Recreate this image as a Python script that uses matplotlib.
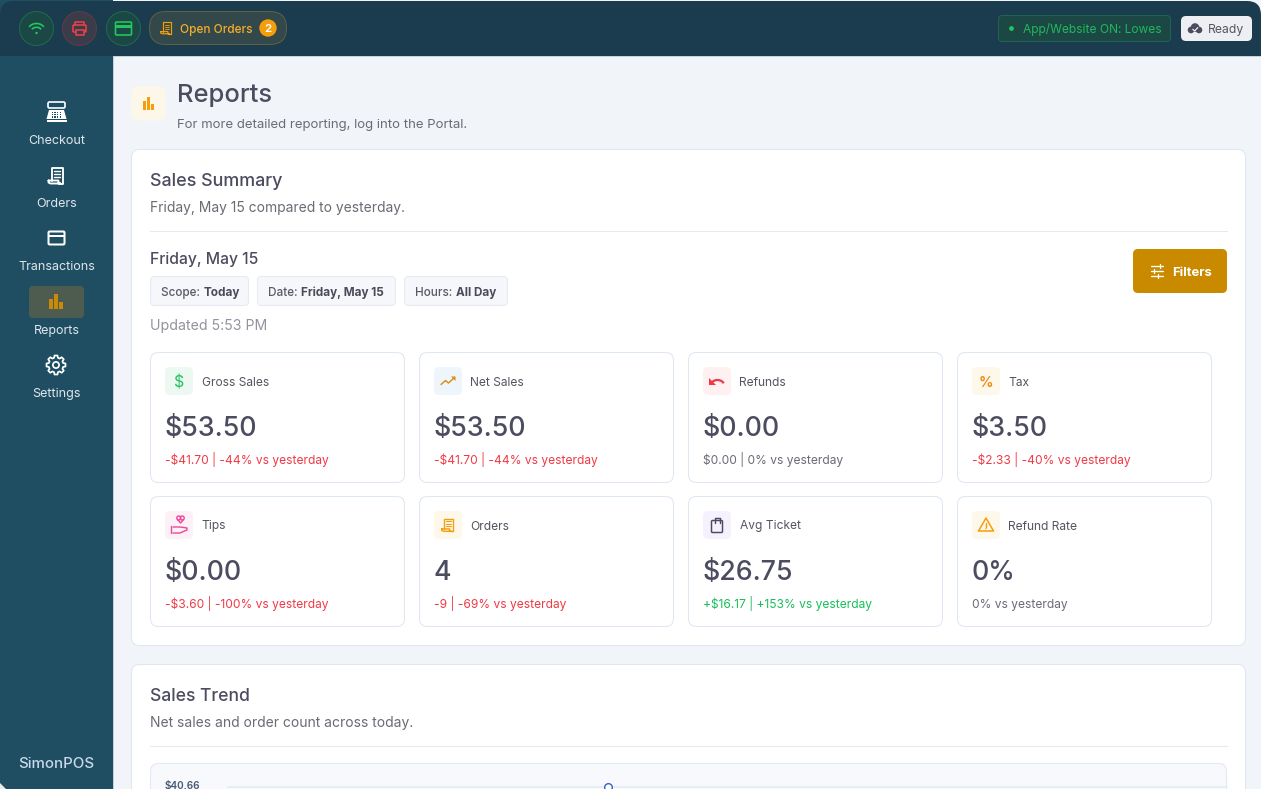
import math
import matplotlib
matplotlib.use("Agg")
import matplotlib.pyplot as plt
from matplotlib.patches import FancyBboxPatch, Circle, Rectangle, Polygon, Arc

plt.rcParams['font.family'] = ['Inter', 'DejaVu Sans']

W, H = 1261, 789

# ---------- content ----------
nav_labels = ["Checkout", "Orders", "Transactions", "Reports", "Settings"]
scope_chips = [("Scope: ", "Today"), ("Date: ", "Friday, May 15"), ("Hours: ", "All Day")]
card_titles = ["Gross Sales", "Net Sales", "Refunds", "Tax", "Tips", "Orders", "Avg Ticket", "Refund Rate"]
card_values = ["$53.50", "$53.50", "$0.00", "$3.50", "$0.00", "4", "$26.75", "0%"]
card_deltas = ["-$41.70 | -44% vs yesterday", "-$41.70 | -44% vs yesterday", "$0.00 | 0% vs yesterday",
               "-$2.33 | -40% vs yesterday", "-$3.60 | -100% vs yesterday", "-9 | -69% vs yesterday",
               "+$16.17 | +153% vs yesterday", "0% vs yesterday"]
delta_kinds = ["down", "down", "flat", "down", "down", "down", "up", "flat"]
trend_axis_label = "$40.66"
trend_peak = [40.66]

fig = plt.figure(figsize=(W / 100, H / 100), dpi=100, facecolor="white")
ax = fig.add_axes([0, 0, 1, 1])
ax.set_xlim(0, W)
ax.set_ylim(H, 0)
ax.axis("off")

DARK = "#4c4c60"
GREY = "#6b6b74"
RED = "#f03a45"
GREEN = "#22c55e"
AMBER = "#f59e0b"
BORDER = "#dfe7f2"
SIDE = "#1f4e63"


def rrect(x, y, w, h, r, fc, ec="none", lw=0.75, z=2, alpha=None):
    p = FancyBboxPatch((x + r, y + r), w - 2 * r, h - 2 * r, boxstyle=f"round,pad={r},rounding_size={r}",
                       fc=fc, ec=ec, lw=lw, zorder=z, alpha=alpha)
    ax.add_patch(p)
    return p


def txt(x, y, s, px, color=DARK, ha="left", va="baseline", weight="normal", z=6):
    return ax.text(x, y, s, fontsize=px * 0.72, color=color, ha=ha, va=va, fontweight=weight, zorder=z)


def line(xs, ys, color, lw=1.2, z=5):
    ax.plot(xs, ys, color=color, lw=lw, zorder=z, solid_capstyle="round", solid_joinstyle="round")


def bars_icon(cx, cy, color, s=1.0, z=5):
    for dx, h in ((-5.2, 10), (0, 15), (5.2, 7)):
        ax.add_patch(Rectangle((cx + (dx - 1.8) * s, cy + (7 - h) * s), 3.6 * s, h * s, fc=color, ec="none", zorder=z))


def card_icon(cx, cy, color, lw=1.2):
    ax.add_patch(FancyBboxPatch((cx - 8, cy - 6.5), 16, 13, boxstyle="round,pad=0,rounding_size=1.2",
                                fc="none", ec=color, lw=lw, zorder=5))
    ax.add_patch(Rectangle((cx - 8, cy - 3.4), 16, 2.8, fc=color, ec="none", zorder=5))


def receipt_icon(cx, cy, color, lw=1.2, s=1.0):
    line([cx - 5 * s, cx - 5 * s, cx + 6 * s, cx + 6 * s, cx + 2 * s],
         [cy + 5 * s, cy - 8 * s, cy - 8 * s, cy + 8 * s, cy + 8 * s], color, lw)
    line([cx - 8 * s, cx + 2 * s, cx + 2 * s, cx + 4 * s, cx - 6 * s, cx - 8 * s, cx - 8 * s],
         [cy + 5 * s, cy + 5 * s, cy + 8 * s, cy + 8 * s, cy + 8 * s, cy + 7 * s, cy + 5 * s], color, lw)
    for dy in (-4.5, -1.5, 1.5):
        line([cx - 2.5 * s, cx + 3.5 * s], [cy + dy * s, cy + dy * s], color, lw * 0.75)


def gear_icon(cx, cy, color):
    pts = []
    teeth = 8
    for i in range(teeth):
        a0 = 2 * math.pi * i / teeth - math.pi / 2
        step = 2 * math.pi / teeth
        for frac, r in ((-0.34, 7.4), (-0.2, 9.6), (0.2, 9.6), (0.34, 7.4)):
            a = a0 + frac * step
            pts.append([cx + r * math.cos(a), cy + r * math.sin(a)])
    ax.add_patch(Polygon(pts, closed=True, fc="none", ec=color, lw=1.25, zorder=5, joinstyle="round"))
    ax.add_patch(Circle((cx, cy), 3.1, fc="none", ec=color, lw=1.25, zorder=5))


# ---------- window ----------
ax.add_patch(Rectangle((0, 0), W, H, fc="#f1f5f9", ec="none", zorder=0))
ax.add_patch(Rectangle((0, 0), 113, H, fc=SIDE, ec="none", zorder=1))
ax.add_patch(Rectangle((113, 56), 1, H, fc="#c4d0da", ec="none", zorder=1))
rrect(0, 1, W, 75, 14, "#1a3c4e", z=1.2)
ax.add_patch(Rectangle((0, 56), 113, 24, fc=SIDE, ec="none", zorder=1.3))
ax.add_patch(Rectangle((113.0, 56), W - 113, 24, fc="#f1f5f9", ec="none", zorder=1.3))
ax.add_patch(Rectangle((113, 56), W - 113, 1, fc="#c8d2dc", ec="none", zorder=1.4))
ax.add_patch(Rectangle((113, 56), 1, 40, fc="#c4d0da", ec="none", zorder=1.4))
ax.add_patch(Polygon([[0, 783], [0, 789], [6, 789]], fc="#e9e9e6", ec="none", zorder=1.5))

# ---------- top bar ----------
for cx0, fc, ec in ((36.5, "#1b4745", "#1f6a50"), (79.5, "#3a3c4a", "#623a48"), (123.5, "#1b4745", "#1f6a50")):
    ax.add_patch(Circle((cx0, 28.5), 17, fc=fc, ec=ec, lw=0.75, zorder=3))
for d, lw0 in ((20, 1.2), (12.5, 1.2)):
    ax.add_patch(Arc((36.5, 33.5), d, d, theta1=222, theta2=318, ec=GREEN, lw=lw0, zorder=5))
ax.add_patch(Circle((36.5, 33), 1.2, fc=GREEN, ec="none", zorder=5))
# printer
line([75, 75, 84, 84], [25, 22, 22, 25], "#f04048", 1.1)
ax.add_patch(FancyBboxPatch((73, 25), 13, 7, boxstyle="round,pad=0,rounding_size=1", fc="none", ec="#f04048", lw=1.1, zorder=5))
ax.add_patch(Rectangle((75.5, 29.5), 8, 5, fc="#3a3c4a", ec="#f04048", lw=1.1, zorder=5.5))
card_icon(123.5, 28.5, GREEN, 1.2)
rrect(149.5, 11.5, 137, 33, 16.5, "#33484a", ec="#5e5f45", lw=0.75)
receipt_icon(166.5, 28, AMBER, 0.85, 0.72)
txt(180, 32.5, "Open Orders", 11.9, "#f5ac2a", weight="medium")
ax.add_patch(Circle((268, 28), 8.7, fc=AMBER, ec="none", zorder=5))
txt(268, 32, "2", 11.5, "white", ha="center", weight="semibold")

rrect(998.5, 15.5, 172, 26, 4, "#1b4745", ec="#1f6450", lw=0.75)
ax.add_patch(Circle((1011.5, 28.5), 2.4, fc=GREEN, ec="none", zorder=5))
txt(1023, 33.3, "App/Website ON: Lowes", 12, "#22b85c")
rrect(1181, 16, 71, 25, 5, "#eeeff2")
ax.add_patch(Circle((1195, 27.5), 4.3, fc=DARK, ec="none", zorder=5))
ax.add_patch(Circle((1199, 30), 3.3, fc=DARK, ec="none", zorder=5))
ax.add_patch(Circle((1191, 30), 3.3, fc=DARK, ec="none", zorder=5))
line([1192.8, 1194.6, 1197.8], [29.3, 31, 27.6], "white", 0.8, z=6)
txt(1208, 33.4, "Ready", 12.2, "#55555f")

# ---------- sidebar ----------
nav_y = [143.5, 206.5, 270, 333.5, 397]
for label, y in zip(nav_labels, nav_y):
    txt(56.5, y, label, 12.5, "#dfe6ea", ha="center")
# till
rrect(48, 102, 17, 6, 1.5, "none", ec="white", lw=1.2, z=5)
ax.add_patch(Polygon([[49, 110], [64, 110], [66.5, 119], [46.5, 119]], fc="white", ec="none", zorder=5))
ax.add_patch(Rectangle((46.5, 120), 20, 2, fc="white", ec="none", zorder=5))
for i in range(4):
    for j in range(3):
        ax.add_patch(Rectangle((51.5 + i * 2.7, 112 + j * 2.2), 1.5, 1.2, fc=SIDE, ec="none", zorder=6))
receipt_icon(56.5, 175.5, "white", 1.35, 1.0)
card_icon(56.5, 238, "white", 1.45)
rrect(29, 286, 55, 32, 4, "#4e5c4f")
bars_icon(56, 302, "#c98a0a", 1.0)
gear_icon(56, 365, "white")
# logo
txt(18, 768.5, "SimonPOS", 15, "#c9d9ea", weight="medium")

# ---------- page header ----------
rrect(131.5, 86.5, 34, 34, 6, "#fdf7e9")
bars_icon(148.5, 104, AMBER, 0.85)
txt(177, 102, "Reports", 25.5, DARK, weight="medium")
txt(177, 128, "For more detailed reporting, log into the Portal.", 13.15, GREY)

# ---------- summary panel ----------
rrect(131.5, 149.5, 1114, 496, 8, "white", ec=BORDER, z=1.5)
txt(150, 186, "Sales Summary", 17.9, DARK, weight="medium")
txt(150, 212, "Friday, May 15 compared to yesterday.", 13.85, GREY)
ax.plot([150, 1227], [231, 231], color="#e4e9f4", lw=0.75, zorder=3)
txt(150, 264, "Friday, May 15", 15.7, DARK, weight="medium")

chip_x = [150, 257, 404]
chip_w = [99, 139, 104]
for (a, b), x0, w0 in zip(scope_chips, chip_x, chip_w):
    rrect(x0 + .5, 276.5, w0 - 1, 29, 4, "#f5f7fb", ec="#e6ebf3")
    t = txt(x0 + 11, 295.5, a, 11.7, "#5a5a64", weight="medium")
    fig.canvas.draw()
    bb = t.get_window_extent()
    txt(bb.x1 + 0.5, 295.5, b, 11.7, "#4a4a58", weight="bold")

txt(150, 329.5, "Updated 5:53 PM", 14.1, "#92939b")

rrect(1133, 249, 94, 44, 5, "#c98a00")
for yy, k in ((266, 1160), (271, 1153.5), (276, 1158)):
    line([1151, 1163], [yy, yy], "white", 0.95)
    line([k, k], [yy - 2, yy + 2], "white", 0.95)
txt(1172, 275.5, "Filters", 13, "white", weight="bold")

# ---------- metric cards ----------
col_x = [150, 419, 688, 957]
row_y = [352, 496]
delta_color = {"down": RED, "up": "#18bf5a", "flat": GREY}
icon_bg = ["#edf8f2", "#eef6fc", "#fff1f1", "#fef8ea", "#fef0f7", "#fef8ea", "#f5f2fe", "#fef8ea"]
for i, (title, value, delta, kind) in enumerate(zip(card_titles, card_values, card_deltas, delta_kinds)):
    x0 = col_x[i % 4]
    y0 = row_y[i // 4]
    rrect(x0 + .5, y0 + .5, 254, 130, 8, "white", ec=BORDER, z=2)
    rrect(x0 + 15, y0 + 15, 28, 28, 5, icon_bg[i], z=3)
    txt(x0 + 51.5, y0 + 33.5, title, 12, "#55555f")
    txt(x0 + 14.5, y0 + 84, value, 26.8, DARK, weight="medium")
    txt(x0 + 15, y0 + 112, delta, 12, delta_color[kind])

# card icons
cx = [col_x[i % 4] + 29 for i in range(8)]
cy = [row_y[i // 4] + 29 for i in range(8)]
txt(cx[0], cy[0] + 6, "$", 16, GREEN, ha="center")
line([cx[1] - 7, cx[1] - 2.5, cx[1] + 0.5, cx[1] + 6.5], [cy[1] + 3.5, cy[1] - 0.5, cy[1] + 2, cy[1] - 3.5], "#d98a10", 1.0)
ax.add_patch(Polygon([[cx[1] + 7.5, cy[1] - 4.5], [cx[1] + 3, cy[1] - 4.5], [cx[1] + 7.5, cy[1] + 0]], fc="#d98a10", ec="none", zorder=5))
ax.add_patch(Arc((cx[2] + 0.5, cy[2] + 4), 13, 10, theta1=195, theta2=345, ec=RED, lw=1.6, zorder=5))
ax.add_patch(Polygon([[cx[2] - 8, cy[2] - 3], [cx[2] - 8, cy[2] + 4], [cx[2] - 1, cy[2] + 4]], fc=RED, ec="none", zorder=5))
txt(cx[3], cy[3] + 5.5, "%", 14.5, "#f08a12", ha="center", weight="semibold")
# tips: hand holding a heart
line([cx[4] - 8, cx[4] - 8], [cy[4] + 1, cy[4] + 8], "#ec4899", 1.0)
line([cx[4] - 6, cx[4] + 1, cx[4] + 8, cx[4] + 8, cx[4] + 1, cx[4] - 6], [cy[4] + 2, cy[4] + 2, cy[4] + 3, cy[4] + 5, cy[4] + 8, cy[4] + 8], "#ec4899", 1.0)
ax.add_patch(Circle((cx[4] - 0.2, cy[4] - 7), 2.0, fc="none", ec="#ec4899", lw=1.0, zorder=5))
ax.add_patch(Circle((cx[4] + 3.2, cy[4] - 7), 2.0, fc="none", ec="#ec4899", lw=1.0, zorder=5))
line([cx[4] - 1.6, cx[4] + 1.6, cx[4] + 4.6], [cy[4] - 5.5, cy[4] - 2, cy[4] - 5.5], "#ec4899", 1.0)
receipt_icon(cx[5], cy[5], AMBER, 1.0, 0.78)
ax.add_patch(FancyBboxPatch((cx[6] - 5.5, cy[6] - 4.5), 11, 12, boxstyle="round,pad=0,rounding_size=1",
                            fc="none", ec=DARK, lw=1.05, zorder=5))
line([cx[6] - 2.5, cx[6] - 2.5, cx[6] + 2.5, cx[6] + 2.5], [cy[6] - 2, cy[6] - 7.5, cy[6] - 7.5, cy[6] - 2], DARK, 1.05)
ax.add_patch(Polygon([[cx[7], cy[7] - 7], [cx[7] + 7.5, cy[7] + 6], [cx[7] - 7.5, cy[7] + 6]], closed=True,
                     fc="none", ec=AMBER, lw=1.1, zorder=5, joinstyle="round"))
line([cx[7], cx[7]], [cy[7] - 2, cy[7] + 1.5], AMBER, 1.05)
ax.add_patch(Circle((cx[7], cy[7] + 3.7), 0.7, fc=AMBER, ec="none", zorder=5))

# ---------- trend panel ----------
rrect(131.5, 664.5, 1114, 200, 8, "white", ec=BORDER, z=1.5)
txt(150, 701, "Sales Trend", 17.5, DARK, weight="medium")
txt(150, 727, "Net sales and order count across today.", 13.9, GREY)
ax.plot([150, 1227], [746, 746], color="#e4e9f4", lw=0.75, zorder=3)
rrect(150.5, 763.5, 1076, 90, 8, "#f7f9fc", ec="#e2e8f4", z=2)
txt(165, 789, trend_axis_label, 10, "#475a75", weight="semibold")

# trend chart: the visible top of the plot, whose upper gridline is the peak value
chart = fig.add_axes([228 / W, 0, (1227 - 228) / W, (H - 787) / H])
chart.set_xlim(0, 1)
chart.set_ylim(trend_peak[0] - 1, trend_peak[0])
chart.axis("off")
chart.patch.set_alpha(0)
chart.axhline(trend_peak[0], color="#e7ebf4", lw=1.2, clip_on=False)
chart.plot([0.38], trend_peak, "o", ms=5.5, mfc="white", mec="#2f5fd0", mew=1.0, clip_on=False, zorder=5)

fig.savefig("out.png", dpi=100)
